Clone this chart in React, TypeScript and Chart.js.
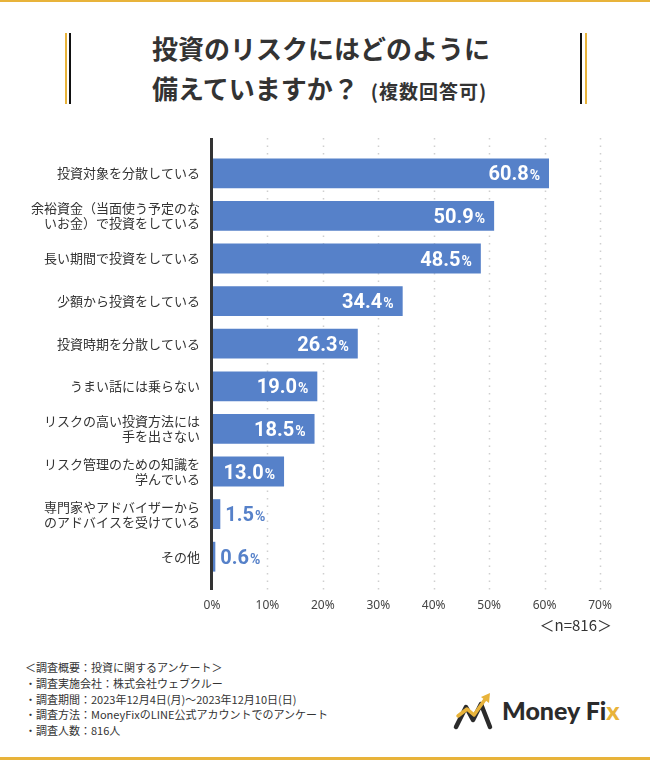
import React, { useEffect, useRef } from "react";
import { Chart, registerables } from "chart.js";

Chart.register(...registerables);

const categories: (string | string[])[] = [
  "投資対象を分散している",
  ["余裕資金（当面使う予定のな", "いお金）で投資をしている"],
  "長い期間で投資をしている",
  "少額から投資をしている",
  "投資時期を分散している",
  "うまい話には乗らない",
  ["リスクの高い投資方法には", "手を出さない"],
  ["リスク管理のための知識を", "学んでいる"],
  ["専門家やアドバイザーから", "のアドバイスを受けている"],
  "その他",
];
const values = [60.8, 50.9, 48.5, 34.4, 26.3, 19.0, 18.5, 13.0, 1.5, 0.6];
const xTicks = [0, 10, 20, 30, 40, 50, 60, 70];

const titleLine1 = "投資のリスクにはどのように";
const titleLine2 = "備えていますか？";
const titleNote = "(複数回答可)";
const sampleNote = "＜n=816＞";
const footerLines = [
  "＜調査概要：投資に関するアンケート＞",
  "・調査実施会社：株式会社ウェブクルー",
  "・調査期間：2023年12月4日(月)～2023年12月10日(日)",
  "・調査方法：MoneyFixのLINE公式アカウントでのアンケート",
  "・調査人数：816人",
];

const BAR = "#5681C9";
const GOLD = "#E8B33A";
const DARK = "#333333";
const JP = '"Noto Sans CJK JP", "Noto Sans", sans-serif';

const decorPlugin = {
  id: "decor",
  beforeDatasetsDraw(chart: any) {
    const { ctx, chartArea, scales } = chart;
    const top = chartArea.top - 14;
    const bottom = chartArea.bottom + 12;
    ctx.save();
    ctx.strokeStyle = "#cfcfcf";
    ctx.lineWidth = 1.5;
    ctx.setLineDash([1.5, 6]);
    xTicks.forEach((t) => {
      if (t === 0) return;
      const x = Math.round(scales.x.getPixelForValue(t)) + 0.5;
      ctx.beginPath();
      ctx.moveTo(x, top);
      ctx.lineTo(x, bottom);
      ctx.stroke();
    });
    ctx.restore();
  },
  afterDatasetsDraw(chart: any) {
    const { ctx, chartArea, scales } = chart;
    const top = chartArea.top - 14;
    const bottom = chartArea.bottom + 12;
    ctx.save();
    const x0 = scales.x.getPixelForValue(0);
    ctx.fillStyle = DARK;
    ctx.fillRect(x0 - 2, top, 3, bottom - top);

    const meta = chart.getDatasetMeta(0);
    meta.data.forEach((bar: any, i: number) => {
      const num = values[i].toFixed(1);
      ctx.font = "bold 20px Roboto";
      const wn = ctx.measureText(num).width;
      ctx.font = "bold 14px Roboto";
      const wp = ctx.measureText("%").width;
      const total = wn + wp + 1;
      let x: number;
      let color: string;
      if (bar.x - bar.base > total + 18) {
        x = bar.x - 9 - total;
        color = "#ffffff";
      } else {
        x = bar.x + 5;
        color = BAR;
      }
      const y = bar.y + 7;
      ctx.fillStyle = color;
      ctx.textAlign = "left";
      ctx.textBaseline = "alphabetic";
      ctx.font = "bold 20px Roboto";
      ctx.fillText(num, x, y);
      ctx.font = "bold 14px Roboto";
      ctx.fillText("%", x + wn + 1, y);
    });
    ctx.restore();
  },
};

function ChartBox() {
  const ref = useRef<HTMLCanvasElement | null>(null);
  useEffect(() => {
    if (!ref.current) return;
    const chart = new Chart(ref.current, {
      type: "bar",
      data: {
        labels: categories,
        datasets: [
          {
            data: values,
            backgroundColor: BAR,
            barPercentage: 0.7,
            categoryPercentage: 1,
          },
        ],
      },
      options: {
        animation: false,
        responsive: false,
        indexAxis: "y",
        layout: { padding: { top: 22, bottom: 12, left: 0, right: 50 } },
        plugins: { legend: { display: false }, tooltip: { enabled: false } },
        scales: {
          x: {
            min: 0,
            max: 70,
            afterBuildTicks: (s: any) => {
              s.ticks = xTicks.map((v) => ({ value: v }));
            },
            ticks: {
              callback: (v: any) => v + "%",
              padding: 20,
              color: "#444",
              font: { family: '"Noto Sans", sans-serif', size: 12 },
            },
            grid: { display: false, drawTicks: false },
            border: { display: false },
            afterFit: (s: any) => {
              s.height = 40;
            },
          },
          y: {
            ticks: {
              padding: 12,
              color: DARK,
              autoSkip: false,
              font: { family: JP, size: 13, lineHeight: 1.15 },
            },
            grid: { display: false, drawTicks: false },
            border: { display: false },
            afterFit: (s: any) => {
              s.width = 212;
            },
          },
        },
      } as any,
      plugins: [decorPlugin],
    });
    return () => chart.destroy();
  }, []);
  return (
    <canvas
      ref={ref}
      width={650}
      height={500}
      style={{ position: "absolute", left: 0, top: 130, width: 650, height: 500, display: "block" }}
    />
  );
}

function Logo() {
  return (
    <svg
      width={170}
      height={44}
      viewBox="0 0 170 44"
      style={{ position: "absolute", left: 452, top: 689 }}
    >
      <path d="M4 38 L14 18 L21 31 L29 15 L38 38" fill="none" stroke="#2b2b2b" strokeWidth={4.5} strokeLinejoin="round" strokeLinecap="round" />
      <path d="M6 27 L15 20 L22 26 L34 9" fill="none" stroke={GOLD} strokeWidth={3.5} strokeLinejoin="round" strokeLinecap="round" />
      <path d="M29 8 L38 4 L37 14 Z" fill={GOLD} />
      <text x={50} y={31} fontFamily="Lato, sans-serif" fontWeight={900} fontSize={25} fill="#2b2b2b">
        Money Fi<tspan fill={GOLD}>x</tspan>
      </text>
    </svg>
  );
}

export default function App() {
  return (
    <div style={{ position: "absolute", left: 0, top: 0, width: 650, height: 760, background: "#fff", overflow: "hidden" }}>
      <div style={{ position: "absolute", left: 0, top: 0, width: 650, height: 2, background: GOLD }} />
      <div style={{ position: "absolute", left: 0, top: 757, width: 650, height: 3, background: GOLD }} />
      <div style={{ position: "absolute", left: 65, top: 33, width: 2, height: 71, background: GOLD }} />
      <div style={{ position: "absolute", left: 69, top: 33, width: 2, height: 71, background: "#111" }} />
      <div style={{ position: "absolute", left: 580, top: 33, width: 2, height: 71, background: "#111" }} />
      <div style={{ position: "absolute", left: 585, top: 33, width: 2, height: 71, background: GOLD }} />
      <div
        style={{
          position: "absolute",
          left: 152,
          top: 28,
          fontFamily: JP,
          fontWeight: 700,
          fontSize: 26,
          lineHeight: "40px",
          color: DARK,
          whiteSpace: "nowrap",
        }}
      >
        <div>{titleLine1}</div>
        <div>
          {titleLine2}
          <span style={{ fontSize: 19, marginLeft: 12, letterSpacing: 1 }}>{titleNote}</span>
        </div>
      </div>
      <ChartBox />
      <div
        style={{
          position: "absolute",
          right: 38,
          top: 614,
          fontFamily: JP,
          fontSize: 15,
          lineHeight: "22px",
          color: DARK,
          whiteSpace: "nowrap",
        }}
      >
        {sampleNote}
      </div>
      <div
        style={{
          position: "absolute",
          left: 25,
          top: 660,
          fontFamily: JP,
          fontSize: 11,
          lineHeight: "15.75px",
          color: DARK,
          whiteSpace: "nowrap",
        }}
      >
        {footerLines.map((l, i) => (
          <div key={i}>{l}</div>
        ))}
      </div>
      <Logo />
    </div>
  );
}
